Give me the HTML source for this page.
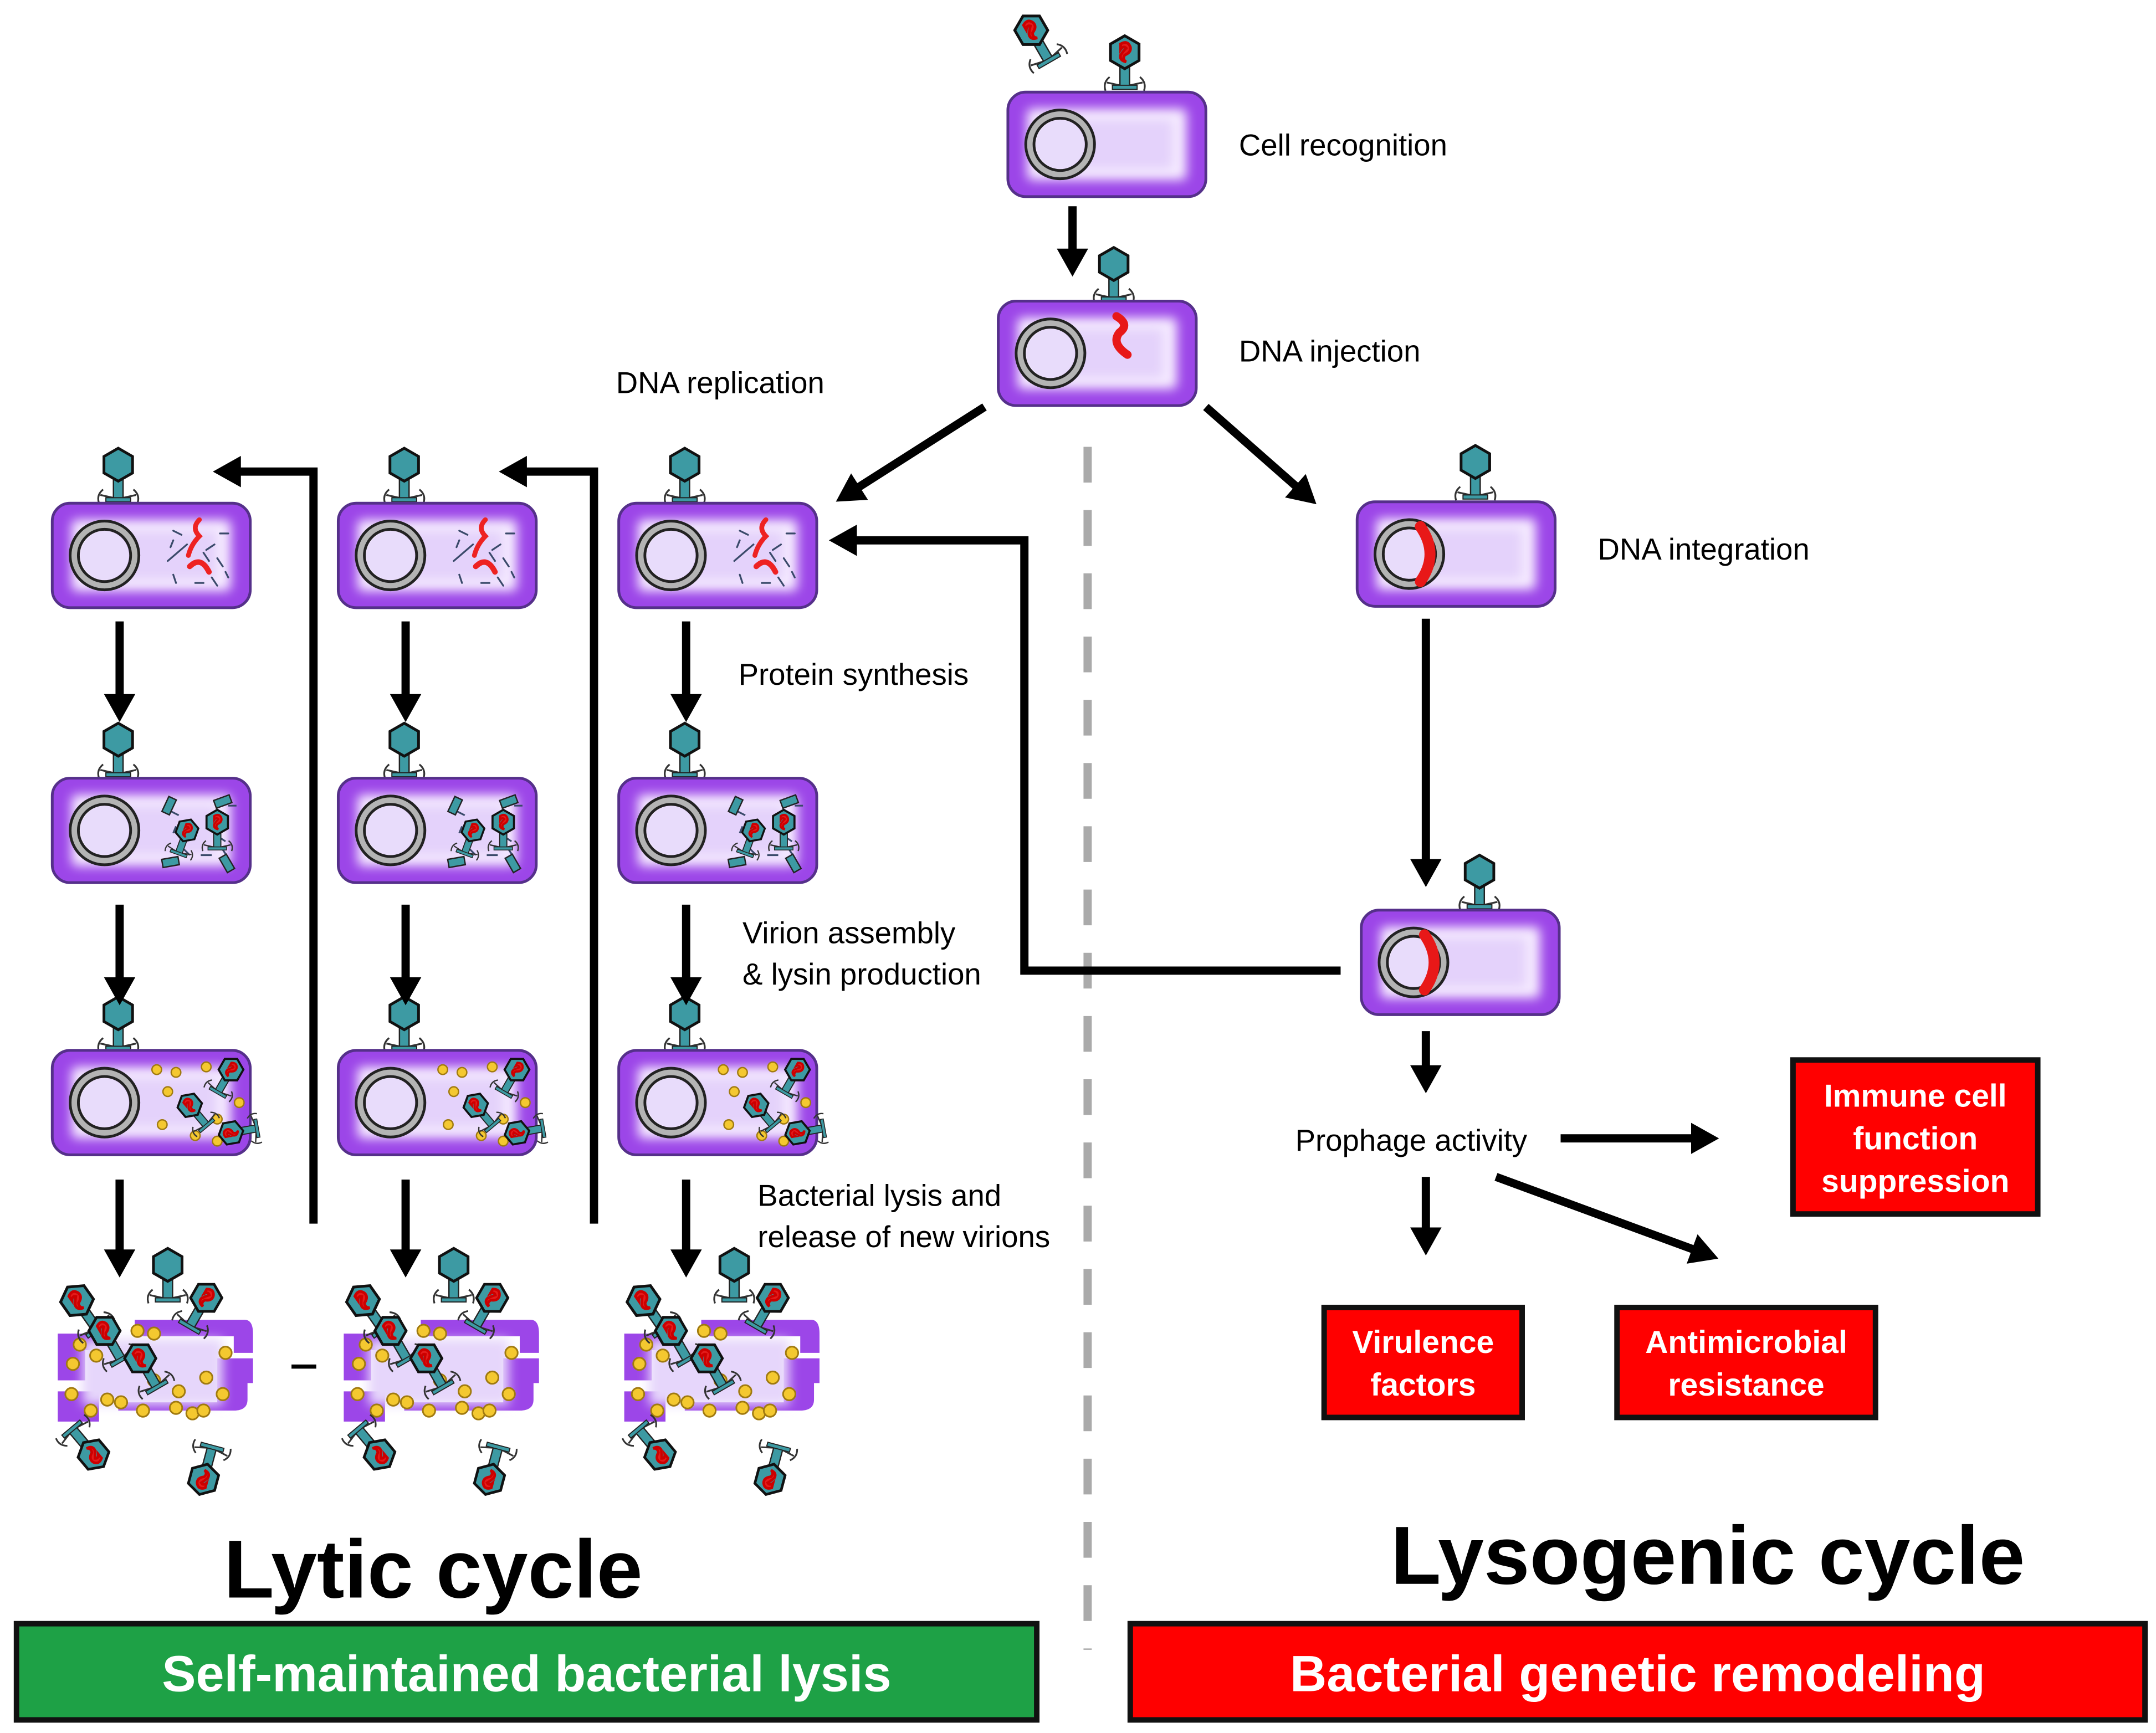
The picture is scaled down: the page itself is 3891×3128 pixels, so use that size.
<!DOCTYPE html>
<html><head><meta charset="utf-8"><style>
html,body{margin:0;padding:0;background:#fff}
svg{display:block}
text{font-family:"Liberation Sans",Arial,sans-serif}
</style></head><body>
<svg width="3891" height="3128" viewBox="0 0 1568 1260.5" xmlns="http://www.w3.org/2000/svg">
<defs>
<filter id="bl" x="-20%" y="-20%" width="140%" height="140%"><feGaussianBlur stdDeviation="4"/></filter>
<marker id="ah" markerWidth="4" markerHeight="4" refX="2.2" refY="2" orient="auto" markerUnits="strokeWidth"><path d="M0,0.1 L3.4,2 L0,3.9 z" fill="#000"/></marker>
<g id="cell">
<rect x="0" y="0" width="144" height="76" rx="13" fill="#9c46e8" stroke="#55308a" stroke-width="2"/>
<rect x="14" y="12" width="116" height="52" rx="4" fill="#f6ecff" filter="url(#bl)"/>
<rect x="30" y="20" width="90" height="36" fill="#e4d2fb" filter="url(#bl)"/>
<circle cx="38" cy="38" r="22" fill="none" stroke="#222" stroke-width="8"/>
<circle cx="38" cy="38" r="22" fill="none" stroke="#b4b4b4" stroke-width="4"/>
<circle cx="38" cy="38" r="17.5" fill="#e8dcfb"/>
</g>
<g id="ph">
<path d="M-11,18 Q-16,22 -14,28 M11,18 Q16,22 14,28 M-4,24 L-13,22 M4,24 L13,22" stroke="#333" stroke-width="1.3" fill="none"/>
<rect x="-3.5" y="9" width="7" height="16" fill="#3d9aa3" stroke="#222" stroke-width="1"/>
<rect x="-9" y="24" width="18" height="3" fill="#3d9aa3" stroke="#222" stroke-width="0.8"/>
<polygon points="0,-12 10.4,-6 10.4,6 0,12 -10.4,6 -10.4,-6" fill="#3d9aa3" stroke="#111" stroke-width="2"/>
</g>
<g id="phr">
<use href="#ph"/>
<path d="M-3,-6 Q2,-9 4,-4 Q5,0 0,2 Q-2,5 1,7 Q-4,6 -3,2 Q-1,-1 1,-3 Q-1,-5 -3,-2 z" fill="#e41b1b" stroke="#c00" stroke-width="2"/>
</g>
<g id="lysed">
<path d="M4,14 h40 v12 h-20 v22 h-20 z M4,56 h30 v22 h-30 z M60,4 h80 q6,0 6,10 v14 h-14 v-12 h-72 z M48,70 h84 q10,0 10,-8 v-12 h-22 v14 h-72 z M120,32 h26 v18 h-26 z" fill="#9c46e8"/>
<rect x="22" y="18" width="102" height="48" fill="#e6d6fb" filter="url(#bl)"/>
<g fill="#f4c830" stroke="#a07a10" stroke-width="1.2">
<circle cx="20" cy="22" r="4.5"/><circle cx="32" cy="30" r="4.5"/><circle cx="15" cy="36" r="4.5"/><circle cx="14" cy="58" r="4.5"/><circle cx="40" cy="62" r="4.5"/><circle cx="50" cy="64" r="4.5"/><circle cx="62" cy="12" r="4.5"/><circle cx="74" cy="14" r="4.5"/><circle cx="74" cy="48" r="4.5"/><circle cx="90" cy="68" r="4.5"/><circle cx="66" cy="70" r="4.5"/><circle cx="102" cy="72" r="4.5"/><circle cx="110" cy="70" r="4.5"/><circle cx="112" cy="46" r="4.5"/><circle cx="92" cy="56" r="4.5"/><circle cx="126" cy="28" r="4.5"/><circle cx="124" cy="58" r="4.5"/><circle cx="28" cy="70" r="4.5"/>
</g>
<use href="#phr" transform="translate(18,-10) rotate(-35)"/>
<use href="#phr" transform="translate(38,12) rotate(-30) scale(0.95)"/>
<use href="#phr" transform="translate(64,32) rotate(-30) scale(0.95)"/>
<use href="#phr" transform="translate(112,-12) rotate(30) scale(0.95)"/>
<use href="#phr" transform="translate(30,102) rotate(140) scale(0.95)"/>
<use href="#phr" transform="translate(110,120) rotate(195) scale(0.95)"/>
<use href="#ph" transform="translate(84,-36)"/>
</g>
<g id="dna" fill="none" stroke-linecap="round">
<path d="M107,12 q-6,6 0,12 q-6,6 -8,14" stroke="#e22" stroke-width="3.5"/>
<path d="M100,46 q8,-8 14,4" stroke="#e22" stroke-width="4"/>
<g stroke="#3a4a6a" stroke-width="1.3"><path d="M88,20 l6,3 M86,32 l2,-5 M84,42 l14,-12 M122,22 l6,0 M118,30 l-6,4 M120,40 l4,6 M110,36 l4,6 M116,54 l4,6 M104,58 l6,0 M88,52 l2,6 M126,50 l2,4"/></g>
</g>
<g id="prot">
<g stroke="#3a4a6a" stroke-width="1.3"><path d="M86,24 l6,3 M88,40 l2,-5 M128,20 l6,0 M120,42 l6,4 M108,56 l8,0 M94,50 l6,6 M124,52 l4,6"/></g>
<g fill="#3d9aa3" stroke="#222" stroke-width="1"><rect x="82" y="14" width="6" height="12" transform="rotate(25 85 20)"/><rect x="118" y="14" width="12" height="6" transform="rotate(-20 124 17)"/><rect x="80" y="58" width="12" height="6" transform="rotate(-10 86 61)"/><rect x="124" y="56" width="6" height="12" transform="rotate(-30 127 62)"/></g>
<use href="#phr" transform="translate(98,38) scale(0.7) rotate(20)"/>
<use href="#phr" transform="translate(120,32) scale(0.75)"/>
</g>
<g id="asm">
<g fill="#f4c830" stroke="#a07a10" stroke-width="1"><circle cx="76" cy="14" r="3.5"/><circle cx="90" cy="16" r="3.5"/><circle cx="84" cy="30" r="3.5"/><circle cx="112" cy="12" r="3.5"/><circle cx="80" cy="54" r="3.5"/><circle cx="104" cy="62" r="3.5"/><circle cx="96" cy="40" r="3.5"/><circle cx="120" cy="50" r="3.5"/><circle cx="136" cy="38" r="3.5"/><circle cx="120" cy="66" r="3.5"/></g>
<use href="#phr" transform="translate(100,40) scale(0.75) rotate(-40)"/>
<use href="#phr" transform="translate(130,14) scale(0.75) rotate(30)"/>
<use href="#phr" transform="translate(130,60) scale(0.75) rotate(-100)"/>
</g>
<g id="integ">
<path d="M46,18 q14,20 0,40" fill="none" stroke="#e81818" stroke-width="8" stroke-linecap="round"/>
</g>
</defs>

<use href="#phr" transform="translate(750,22) rotate(-30)"/>
<use href="#phr" transform="translate(818,38)"/>
<use href="#cell" transform="translate(733,67)"/>
<text x="901" y="113" font-size="22">Cell recognition</text>
<line x1="780" y1="150" x2="780" y2="194" stroke="#000" stroke-width="6" marker-end="url(#ah)"/>

<use href="#ph" transform="translate(810,192)"/>
<use href="#cell" transform="translate(726,219)"/>
<path d="M812,230 q10,6 2,12 q-6,8 6,16" fill="none" stroke="#e81818" stroke-width="6" stroke-linecap="round"/>
<text x="901" y="263" font-size="22">DNA injection</text>
<text x="448" y="286" font-size="22">DNA replication</text>

<line x1="716" y1="296" x2="614" y2="361" stroke="#000" stroke-width="6" marker-end="url(#ah)"/>
<line x1="877" y1="296" x2="952" y2="362" stroke="#000" stroke-width="6" marker-end="url(#ah)"/>

<line x1="791" y1="325" x2="791" y2="1200" stroke="#aaa" stroke-width="6" stroke-dasharray="26,20"/>

<g id="col">
<use href="#ph" transform="translate(86,338)"/>
<use href="#cell" transform="translate(38,366)"/>
<use href="#dna" transform="translate(38,366)"/>
<use href="#ph" transform="translate(86,538)"/>
<use href="#cell" transform="translate(38,566)"/>
<use href="#prot" transform="translate(38,566)"/>
<use href="#ph" transform="translate(86,737)"/>
<use href="#cell" transform="translate(38,764)"/>
<use href="#asm" transform="translate(38,764)"/>
<use href="#lysed" transform="translate(38,956)"/>
<line x1="87" y1="452" x2="87" y2="518" stroke="#000" stroke-width="6" marker-end="url(#ah)"/>
<line x1="87" y1="658" x2="87" y2="724" stroke="#000" stroke-width="6" marker-end="url(#ah)"/>
<line x1="87" y1="858" x2="87" y2="922" stroke="#000" stroke-width="6" marker-end="url(#ah)"/>
</g>
<use href="#col" transform="translate(208,0)"/>
<use href="#col" transform="translate(412,0)"/>
<line x1="212" y1="994" x2="230" y2="994" stroke="#000" stroke-width="3"/>

<path d="M228,890 V343 H162" fill="none" stroke="#000" stroke-width="6" marker-end="url(#ah)"/>
<path d="M432,890 V343 H370" fill="none" stroke="#000" stroke-width="6" marker-end="url(#ah)"/>
<path d="M975,706 H745 V393 H610" fill="none" stroke="#000" stroke-width="6" marker-end="url(#ah)"/>

<text x="537" y="498" font-size="22">Protein synthesis</text>
<text x="540" y="686" font-size="22">Virion assembly</text>
<text x="540" y="716" font-size="22">&amp; lysin production</text>
<text x="551" y="877" font-size="22">Bacterial lysis and</text>
<text x="551" y="907" font-size="22">release of new virions</text>

<use href="#ph" transform="translate(1073,336)"/>
<use href="#cell" transform="translate(987,365)"/>
<use href="#integ" transform="translate(987,365)"/>
<text x="1162" y="407" font-size="22">DNA integration</text>
<line x1="1037" y1="450" x2="1037" y2="638" stroke="#000" stroke-width="6" marker-end="url(#ah)"/>
<use href="#ph" transform="translate(1076,634)"/>
<use href="#cell" transform="translate(990,662)"/>
<use href="#integ" transform="translate(990,662)"/>
<line x1="1037" y1="750" x2="1037" y2="788" stroke="#000" stroke-width="6" marker-end="url(#ah)"/>
<text x="942" y="837" font-size="22">Prophage activity</text>
<line x1="1135" y1="828" x2="1243" y2="828" stroke="#000" stroke-width="6" marker-end="url(#ah)"/>
<line x1="1037" y1="856" x2="1037" y2="906" stroke="#000" stroke-width="6" marker-end="url(#ah)"/>
<line x1="1088" y1="856" x2="1243" y2="913" stroke="#000" stroke-width="6" marker-end="url(#ah)"/>

<g font-weight="bold" fill="#fff" font-size="23" text-anchor="middle">
<rect x="1304" y="771" width="178" height="112" fill="#f00" stroke="#111" stroke-width="4"/>
<text x="1393" y="805">Immune cell</text><text x="1393" y="836">function</text><text x="1393" y="867">suppression</text>
<rect x="963" y="951" width="144" height="80" fill="#f00" stroke="#111" stroke-width="4"/>
<text x="1035" y="984">Virulence</text><text x="1035" y="1015">factors</text>
<rect x="1176" y="951" width="188" height="80" fill="#f00" stroke="#111" stroke-width="4"/>
<text x="1270" y="984">Antimicrobial</text><text x="1270" y="1015">resistance</text>
</g>

<text x="315" y="1162" font-size="60" font-weight="bold" text-anchor="middle">Lytic cycle</text>
<text x="1242" y="1152" font-size="60" font-weight="bold" text-anchor="middle">Lysogenic cycle</text>

<rect x="12" y="1181" width="742" height="70" fill="#1ea146" stroke="#111" stroke-width="4"/>
<text x="383" y="1230" font-size="37" font-weight="bold" fill="#fff" text-anchor="middle">Self-maintained bacterial lysis</text>
<rect x="822" y="1181" width="738" height="70" fill="#f00" stroke="#111" stroke-width="4"/>
<text x="1191" y="1230" font-size="37" font-weight="bold" fill="#fff" text-anchor="middle">Bacterial genetic remodeling</text>
</svg>
</body></html>
